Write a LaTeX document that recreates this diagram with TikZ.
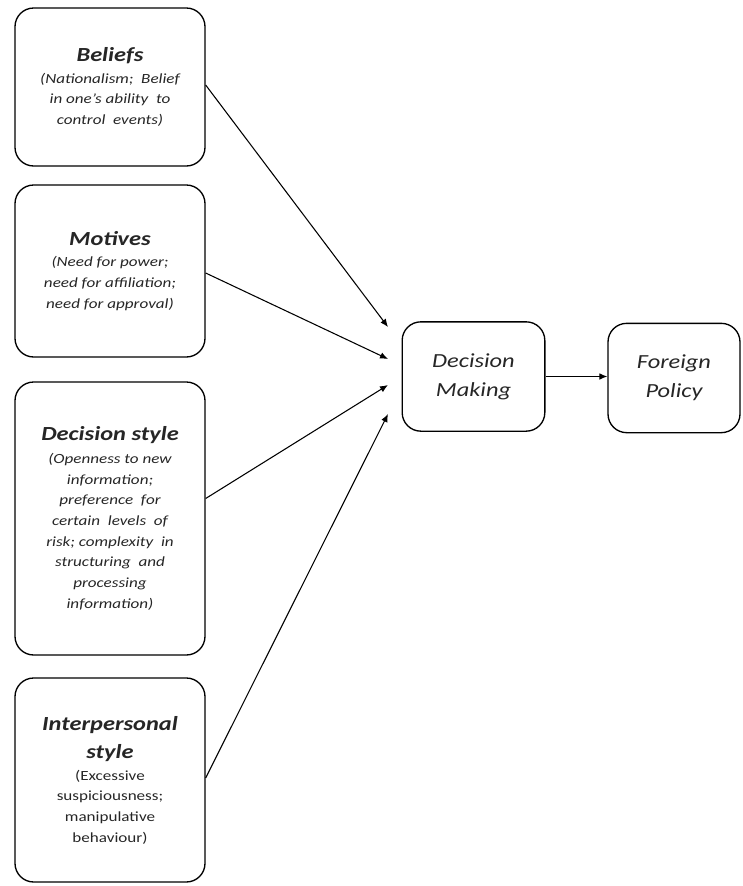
\documentclass[tikz,border=0pt]{standalone}
\usepackage{fontspec}
\setmainfont{Carlito}[FakeStretch=1.22]
\usetikzlibrary{arrows.meta}
\newcommand{\bodyfont}{\fontsize{10.5}{15.5}\selectfont\itshape}
\newcommand{\bodyupfont}{\fontsize{10.5}{15.5}\selectfont}
\newcommand{\ttl}[1]{{\fontsize{15}{22}\selectfont\bfseries\itshape #1}}
\tikzset{
  box/.style={draw, line width=1pt, rounded corners=14pt, align=center, inner sep=0pt,
              minimum width=142.5pt, font=\bodyfont, text=black!85},
  bigbox/.style={draw, line width=1pt, rounded corners=14pt, align=center, inner sep=0pt,
              font=\fontsize{15}{21.5}\selectfont\itshape, text=black!85},
  conn/.style={line width=0.8pt, -{Latex[length=6pt,width=5pt]}}
}
\begin{document}
\begin{tikzpicture}[x=0.75pt,y=-0.75pt]
\useasboundingbox (0,0) rectangle (743,886);
\node[box, minimum height=118.5pt] (bel) at (110,87)
  {\ttl{Beliefs}\\[0.5pt](Nationalism;\ \ Belief\\in one’s ability\ \ to\\control\ \ events)};
\node[box, minimum height=129pt] (mot) at (110,271)
  {\ttl{Motives}\\[0.5pt](Need for power;\\need for affiliation;\\need for approval)};
\node[box, minimum height=204.75pt] (dec) at (110,518.5)
  {\ttl{Decision style}\\[1.5pt](Openness to new\\information;\\preference\ \ for\\certain\ \ levels\ \ of\\risk; complexity\ \ in\\structuring\ \ and\\processing\\information)};
\node[box, minimum height=153pt, font=\bodyupfont] (int) at (110,780)
  {\ttl{Interpersonal}\\[6pt]\ttl{style}\\[0.5pt](Excessive\\suspiciousness;\\manipulative\\behaviour)};
\node[bigbox, minimum width=107pt, minimum height=82pt] (dm) at (473.5,376.5)
  {Decision\\Making};
\node[bigbox, minimum width=99pt, minimum height=82pt] (fp) at (674,378)
  {Foreign\\Policy};
\coordinate (t1) at (388,327);
\coordinate (t2) at (388,359);
\coordinate (t3) at (388,385);
\coordinate (t4) at (388,414);
\draw[conn] ([yshift=1.5pt]bel.east) -- (t1);
\draw[conn] ([yshift=-1.5pt]mot.east) -- (t2);
\draw[conn] ([yshift=15pt]dec.east) -- (t3);
\draw[conn] ([yshift=1.5pt]int.east) -- (t4);
\draw[conn] (dm.east) -- (dm.east -| fp.west);
\end{tikzpicture}
\end{document}
